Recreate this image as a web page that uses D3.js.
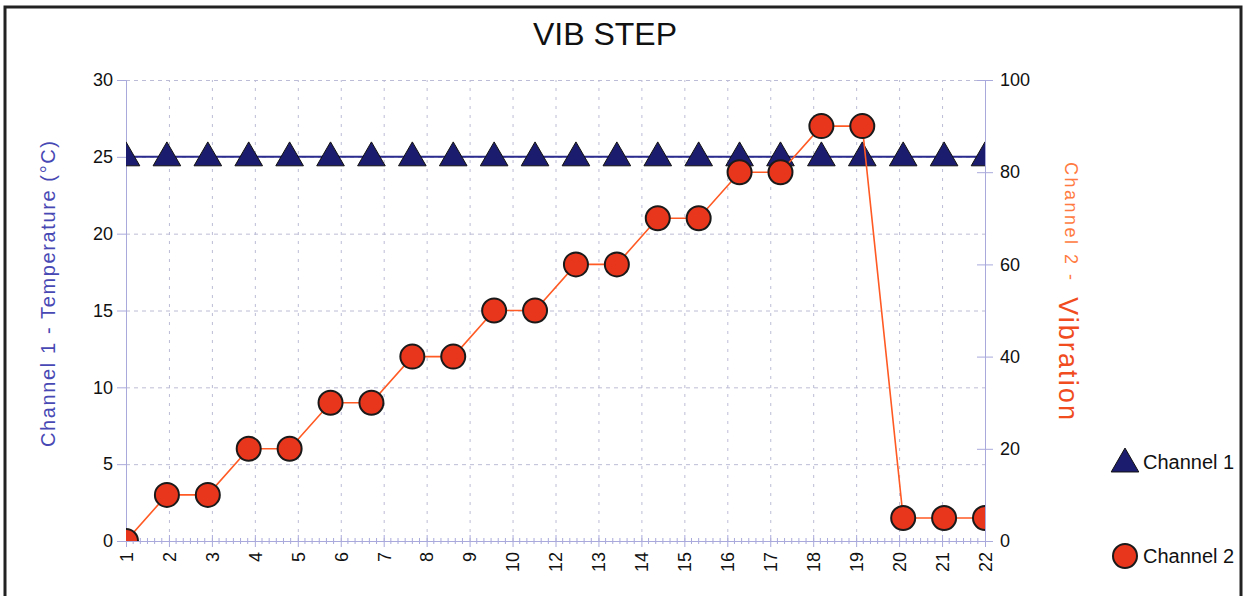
<!DOCTYPE html>
<html>
<head>
<meta charset="utf-8">
<script src="https://cdnjs.cloudflare.com/ajax/libs/d3/7.8.5/d3.min.js"></script>
<style>
  body { margin: 0; background: white; }
  text { font-family: "Liberation Sans", Arial, sans-serif; }
</style>
</head>
<body>
<svg id="plot"></svg>
<script>
// data
const samples = [1, 2, 3, 4, 5, 6, 7, 8, 9, 10, 11, 12, 13, 14, 15, 16, 17, 18, 19, 20, 21, 22];
const channel1 = [25, 25, 25, 25, 25, 25, 25, 25, 25, 25, 25, 25, 25, 25, 25, 25, 25, 25, 25, 25, 25, 25];
const channel2 = [0, 10, 10, 20, 20, 30, 30, 40, 40, 50, 50, 60, 60, 70, 70, 80, 80, 90, 90, 5, 5, 5];
const xTickLabels = ["1", "2", "3", "4", "5", "6", "7", "8", "9", "10", "12", "13", "14", "15", "16", "17", "18", "19", "20", "21", "22"];
const leftTicks = [0, 5, 10, 15, 20, 25, 30];
const rightTicks = [0, 20, 40, 60, 80, 100];
const seriesNames = ["Channel 1", "Channel 2"];

let width = 1249, height = 596;
let margin = { top: 80, bottom: 55, left: 126, right: 264 };

let svg = d3.select('#plot')
  .attr('width', width)
  .attr('height', height)
  .style('background', 'white');

// frame of the chart
svg.append('rect')
  .attr('x', 5).attr('y', 7)
  .attr('width', 1236).attr('height', 600)
  .attr('fill', 'none')
  .attr('stroke', '#222')
  .attr('stroke-width', 3);

let x0 = margin.left, x1 = width - margin.right;
let y0 = height - margin.bottom, y1 = margin.top;

let xScale = d3.scalePoint().domain(samples).range([x0, x1]);
let xLabelScale = d3.scalePoint().domain(xTickLabels).range([x0, x1]);
let yLeft = d3.scaleLinear().domain([0, 30]).range([y0, y1]);
let yRight = d3.scaleLinear().domain([0, 100]).range([y0, y1]);

const axisColor = '#a9a9dc';
const gridColor = '#bcbcd6';

// horizontal grid
svg.append('g')
  .attr('transform', `translate(${x0}, 0)`)
  .call(d3.axisLeft(yLeft).tickValues(leftTicks.slice(1)).tickSize(-(x1 - x0)).tickFormat(''))
  .call(g => g.select('.domain').remove())
  .call(g => g.selectAll('line').attr('stroke', gridColor).attr('stroke-dasharray', '4,4'));

// vertical grid
svg.append('g')
  .attr('transform', `translate(0, ${y0})`)
  .call(d3.axisBottom(xLabelScale).tickSize(-(y0 - y1)).tickFormat(''))
  .call(g => g.select('.domain').remove())
  .call(g => g.selectAll('line').attr('stroke', gridColor).attr('stroke-dasharray', '3,6'));

// left axis
let leftAxis = svg.append('g')
  .attr('transform', `translate(${x0}, 0)`)
  .call(d3.axisLeft(yLeft).tickValues(leftTicks).tickSize(9).tickPadding(4));
leftAxis.select('.domain').attr('stroke', axisColor);
leftAxis.selectAll('line').attr('stroke', axisColor);
leftAxis.selectAll('text').attr('font-size', 18).attr('fill', '#111')
  .attr('font-family', '"Liberation Sans", Arial, sans-serif');

// right axis
let rightAxis = svg.append('g')
  .attr('transform', `translate(${x1}, 0)`)
  .call(d3.axisRight(yRight).tickValues(rightTicks).tickSize(8).tickPadding(7));
rightAxis.select('.domain').attr('stroke', axisColor);
rightAxis.selectAll('.tick line').attr('stroke', axisColor).attr('x1', -8);
rightAxis.selectAll('text').attr('font-size', 18).attr('fill', '#111')
  .attr('font-family', '"Liberation Sans", Arial, sans-serif');

// bottom axis with rotated labels
let xAxis = svg.append('g')
  .attr('transform', `translate(0, ${y0})`)
  .call(d3.axisBottom(xLabelScale).tickSize(6).tickPadding(4));
xAxis.select('.domain').attr('stroke', axisColor);
xAxis.selectAll('.tick line').attr('stroke', axisColor).attr('y1', -6);
xAxis.selectAll('text')
  .attr('font-size', 18).attr('fill', '#111')
  .attr('font-family', '"Liberation Sans", Arial, sans-serif')
  .attr('text-anchor', 'end')
  .attr('transform', 'rotate(-90)')
  .attr('x', -11).attr('y', 0).attr('dy', '0.35em');

// minor ticks between the labelled ones
let step = xLabelScale.step();
let minor = [];
xTickLabels.slice(0, -1).forEach(l => {
  for (let k = 1; k < 6; k++) minor.push(xLabelScale(l) + step * k / 6);
});
svg.append('g').selectAll('line')
  .data(minor)
  .enter()
  .append('line')
  .attr('x1', d => d).attr('x2', d => d)
  .attr('y1', y0 - 3).attr('y2', y0 + 3)
  .attr('stroke', axisColor);

// clip to plot area
svg.append('clipPath').attr('id', 'clip')
  .append('rect')
  .attr('x', x0).attr('y', y1)
  .attr('width', x1 - x0).attr('height', y0 - y1);

let plot = svg.append('g').attr('clip-path', 'url(#clip)');

const tri = d3.symbol().type(d3.symbolTriangle).size(330);

// channel 1
let line1 = d3.line().x((d, i) => xScale(samples[i])).y(d => yLeft(d));
plot.append('path')
  .attr('d', line1(channel1))
  .attr('fill', 'none')
  .attr('stroke', '#2b2b8e')
  .attr('stroke-width', 2);
plot.selectAll('.tri')
  .data(channel1)
  .enter()
  .append('path')
  .attr('class', 'tri')
  .attr('d', tri)
  .attr('transform', (d, i) => `translate(${xScale(samples[i])}, ${yLeft(d) + 1})`)
  .attr('fill', '#1c1c6e')
  .attr('stroke', '#111')
  .attr('stroke-width', 1);

// channel 2
let line2 = d3.line().x((d, i) => xScale(samples[i])).y(d => yRight(d));
plot.append('path')
  .attr('d', line2(channel2))
  .attr('fill', 'none')
  .attr('stroke', '#ff5a24')
  .attr('stroke-width', 1.6);
plot.selectAll('.dot')
  .data(channel2)
  .enter()
  .append('circle')
  .attr('class', 'dot')
  .attr('cx', (d, i) => xScale(samples[i]))
  .attr('cy', d => yRight(d))
  .attr('r', 12)
  .attr('fill', '#e8361d')
  .attr('stroke', '#1a1a1a')
  .attr('stroke-width', 2);

// title
svg.append('text')
  .attr('x', 605).attr('y', 45)
  .attr('text-anchor', 'middle')
  .attr('font-size', 32)
  .attr('fill', '#111')
  .text('VIB STEP');

// left axis title
svg.append('text')
  .attr('transform', 'translate(55, 294) rotate(-90)')
  .attr('text-anchor', 'middle')
  .attr('font-size', 20)
  .attr('fill', '#4848b4')
  .attr('textLength', 306)
  .attr('lengthAdjust', 'spacing')
  .text('Channel 1 - Temperature (°C)');

// right axis title
svg.append('text')
  .attr('transform', 'translate(1065, 162) rotate(90)')
  .attr('font-size', 18)
  .attr('fill', '#ff7a40')
  .attr('textLength', 118)
  .attr('lengthAdjust', 'spacing')
  .text('Channel 2 -');
svg.append('text')
  .attr('transform', 'translate(1059, 297) rotate(90)')
  .attr('font-size', 27)
  .attr('fill', '#f04c1e')
  .attr('textLength', 123)
  .attr('lengthAdjust', 'spacing')
  .text('Vibration');

// legend
let legend = svg.append('g');
legend.append('path')
  .attr('d', tri)
  .attr('transform', 'translate(1125, 464)')
  .attr('fill', '#1c1c6e')
  .attr('stroke', '#111');
legend.append('text')
  .attr('x', 1143).attr('y', 469)
  .attr('font-size', 20).attr('fill', '#111')
  .text(seriesNames[0]);
legend.append('circle')
  .attr('cx', 1125).attr('cy', 556).attr('r', 12)
  .attr('fill', '#e8361d')
  .attr('stroke', '#1a1a1a')
  .attr('stroke-width', 2);
legend.append('text')
  .attr('x', 1143).attr('y', 563)
  .attr('font-size', 20).attr('fill', '#111')
  .text(seriesNames[1]);
</script>
</body>
</html>
